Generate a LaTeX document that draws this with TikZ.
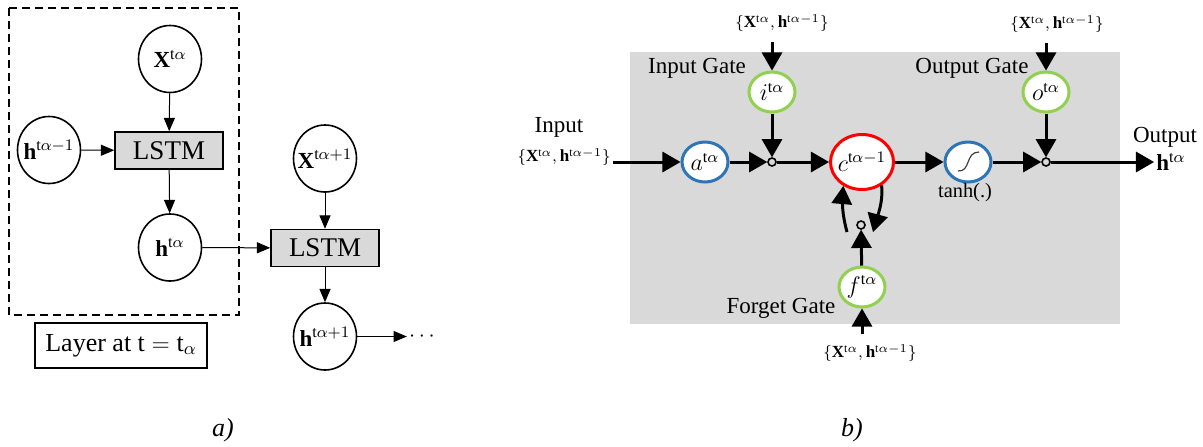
\documentclass[tikz,border=0pt]{standalone}
\usepackage{fontspec}
\setmainfont{Liberation Serif}
\usepackage{xcolor}
\usetikzlibrary{arrows,shapes.geometric}
\definecolor{cellgray}{RGB}{217,217,217}
\definecolor{gateblue}{RGB}{46,117,182}
\definecolor{gategreen}{RGB}{146,208,80}
\newcommand{\ctext}[1]{\makebox[0pt]{#1}}
\begin{document}
\begin{tikzpicture}[x=0.5pt,y=-0.5pt,
  state/.style={draw,ellipse,line width=0.8pt,minimum width=31.5pt,minimum height=33.5pt,inner sep=0pt,font=\fontsize{11.5}{13}\selectfont},
  lstm/.style={draw,fill=cellgray,line width=0.8pt,minimum width=54pt,minimum height=18.5pt,inner sep=0pt,font=\fontsize{13.5}{16}\selectfont},
  flow/.style={line width=0.5pt,-triangle 45},
  pass/.style={line width=1.5pt,-triangle 60},
  gate/.style={draw=gategreen,fill=white,ellipse,line width=1.5pt,minimum width=23pt,minimum height=20pt,inner sep=0pt,font=\fontsize{11.5}{13}\selectfont},
  act/.style={gate,draw=gateblue},
  cell/.style={gate,draw=red,minimum width=31.5pt,minimum height=27.5pt},
  mult/.style={draw,circle,line width=0.8pt,minimum size=4pt,inner sep=0pt},
  inlab/.style={inner sep=1pt,font=\fontsize{8.5}{10}\selectfont},
  gatelab/.style={inner sep=0pt,font=\fontsize{11.5}{13}\selectfont}]
  \useasboundingbox (0,0) rectangle (1203,446);

  % a) unrolled layer
  \draw[dashed,dash pattern=on 4pt off 2.5pt,line width=1pt] (9,8) rectangle (239,315);
  \node[state] (x) at (170,59) {\ctext{$\mathbf{X}^{\mathrm{t}\alpha}$}};
  \node[state] (hp) at (49,150) {\ctext{$\mathbf{h}^{\mathrm{t}\alpha-1}$}};
  \node[lstm] (l1) at (169,150.5) {LSTM};
  \node[state] (h) at (170,247.5) {\ctext{$\mathbf{h}^{\mathrm{t}\alpha}$}};
  \node[state] (xn) at (325,158.5) {\ctext{$\mathbf{X}^{\mathrm{t}\alpha+1}$}};
  \node[lstm] (l2) at (325,248) {LSTM};
  \node[state] (hn) at (325,336.5) {\ctext{$\mathbf{h}^{\mathrm{t}\alpha+1}$}};
  \node[font=\fontsize{11}{13}\selectfont,inner sep=1pt] (dots) at (422,336.5) {$\cdots$};
  \node[draw,line width=0.8pt,minimum width=86pt,minimum height=22.5pt,inner sep=0pt,font=\fontsize{13}{15}\selectfont] (layer) at (121,345.5) {Layer at $\mathrm{t}=\mathrm{t}_\alpha$};

  \draw[flow] (x) -- (l1);
  \draw[flow] (hp) -- (l1);
  \draw[flow] (l1) -- (h);
  \draw[flow] (h) -- (l2);
  \draw[flow] (xn) -- (l2);
  \draw[flow] (l2) -- (hn);
  \draw[flow] (hn) -- (dots);

  \node[font=\fontsize{13}{15}\selectfont\itshape] (capa) at (223,430) {a)};

  % b) LSTM cell
  \fill[cellgray] (630,52) rectangle (1120,324);
  \node[act] (a) at (705,162) {$a^{\mathrm{t}\alpha}$};
  \node[gate] (i) at (772,92) {$i^{\mathrm{t}\alpha}$};
  \node[mult] (m1) at (772,162) {};
  \node[cell] (c) at (862,162) {\ctext{$c^{\mathrm{t}\alpha-1}$}};
  \node[act] (th) at (968,162) {};
  \node[mult] (m2) at (1046,162) {};
  \node[gate] (o) at (1046,92) {$o^{\mathrm{t}\alpha}$};
  \node[mult] (m3) at (861,225) {};
  \node[gate] (f) at (862,287) {$f^{\mathrm{t}\alpha}$};
  \draw[line width=0.6pt,black!75] (958,171) .. controls (971,172) and (965,152) .. (979,152);

  \node[inlab,anchor=east] (inx) at (613,157) {$\{\mathbf{X}^{\mathrm{t}\alpha},\mathbf{h}^{\mathrm{t}\alpha-1}\}$};
  \node[inlab] (ix) at (782,23) {$\{\mathbf{X}^{\mathrm{t}\alpha},\mathbf{h}^{\mathrm{t}\alpha-1}\}$};
  \node[inlab] (ox) at (1057,24) {$\{\mathbf{X}^{\mathrm{t}\alpha},\mathbf{h}^{\mathrm{t}\alpha-1}\}$};
  \node[inlab] (fx) at (870,353) {$\{\mathbf{X}^{\mathrm{t}\alpha},\mathbf{h}^{\mathrm{t}\alpha-1}\}$};
  \node[inner sep=1pt,font=\fontsize{11.5}{13}\selectfont] (hout) at (1171,162) {$\mathbf{h}^{\mathrm{t}\alpha}$};

  \node[gatelab] at (559,127) {Input};
  \node[gatelab] at (1165,137) {Output};
  \node[gatelab] at (697,68) {Input Gate};
  \node[gatelab] at (972,68) {Output Gate};
  \node[gatelab] at (781,308) {Forget Gate};
  \node[inner sep=0pt,font=\fontsize{10.2}{12}\selectfont] at (965,193) {tanh(.)};

  \draw[pass] (inx.east |- a) -- (a);
  \draw[pass] (a) -- (m1);
  \draw[pass,shorten <=4pt] (ix.south -| i) -- (i);
  \draw[pass] (i) -- (m1);
  \draw[pass] (m1) -- (c);
  \draw[pass] (c) -- (th);
  \draw[pass] (th) -- (m2);
  \draw[pass,shorten <=4pt] (ox.south -| o) -- (o);
  \draw[pass] (o) -- (m2);
  \draw[pass] (m2) -- (hout);
  \draw[pass,shorten <=4pt] (fx.north -| f) -- (f);
  \draw[pass] (f) -- (m3);
  \draw[pass] ([xshift=-7pt,yshift=-3.5pt]m3.center) to[out=105,in=265] (c.232);
  \draw[pass] (c.310) to[out=-85,in=75] ([xshift=6pt,yshift=-3.5pt]m3.center);

  \node[font=\fontsize{13}{15}\selectfont\itshape] (capb) at (852,430) {b)};
\end{tikzpicture}
\end{document}
